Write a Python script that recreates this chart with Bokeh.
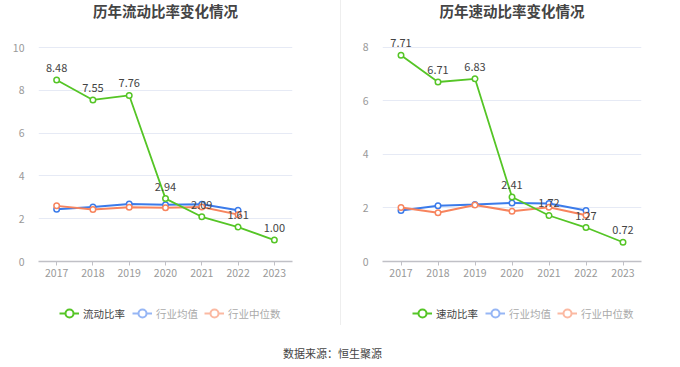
from bokeh.plotting import figure
from bokeh.models import Legend, LegendItem, Div
from bokeh.layouts import row, column
from bokeh.embed import file_html
from bokeh.resources import INLINE
from bokeh.core.properties import value

years = ["2017", "2018", "2019", "2020", "2021", "2022", "2023"]
ind_years = ["2017", "2018", "2019", "2020", "2021", "2022"]

current_ratio = [8.48, 7.55, 7.76, 2.94, 2.09, 1.61, 1.00]
current_ind_mean = [2.44, 2.55, 2.69, 2.65, 2.68, 2.40]
current_ind_median = [2.60, 2.43, 2.54, 2.51, 2.55, 2.19]

quick_ratio = [7.71, 6.71, 6.83, 2.41, 1.72, 1.27, 0.72]
quick_ind_mean = [1.91, 2.08, 2.13, 2.19, 2.17, 1.91]
quick_ind_median = [2.02, 1.82, 2.11, 1.88, 2.03, 1.73]

FONT = "Noto Sans CJK SC"
GREEN = "#55c526"
BLUE = "#3b7bea"
ORANGE = "#f7845e"


def strip(width, height):
    f = figure(x_range=(0, 1), y_range=(0, 1), width=width, height=height,
               output_backend="svg", toolbar_location=None, min_border=0)
    f.axis.visible = False
    f.grid.visible = False
    f.outline_line_color = None
    return f


def make_chart(title, main_name, main_vals, mean_vals, median_vals, ymax,
               yend, width, bl, br, leg_x):
    # title strip (frame aligned with the chart frame below)
    tf = strip(width, 22)
    tf.text([0.5], [0.5], text=[title], text_font=value(FONT),
            text_font_size="14.5px", text_font_style="bold",
            text_color="#444444", text_align="center",
            text_baseline="middle", y_offset=-1)

    p = figure(x_range=years, y_range=(0, yend), width=width, height=276,
               output_backend="svg", toolbar_location=None,
               min_border_left=bl, min_border_right=br,
               min_border_top=6, min_border_bottom=37)
    p.x_range.range_padding = 0
    p.outline_line_color = None

    p.xgrid.grid_line_color = None
    p.ygrid.grid_line_color = "#e6eaf5"
    p.yaxis.ticker = list(range(0, ymax + 1, 2))
    p.yaxis.axis_line_color = None
    p.yaxis.major_tick_line_color = None
    p.yaxis.minor_tick_line_color = None
    p.yaxis.major_label_text_color = "#999999"
    p.yaxis.major_label_text_font = FONT
    p.yaxis.major_label_text_font_size = "10.5px"
    p.yaxis.major_label_standoff = 8

    p.xaxis.axis_line_color = "#c0c0c6"
    p.xaxis.axis_line_width = 1.5
    p.xaxis.major_tick_line_color = "#c0c0c6"
    p.xaxis.major_tick_in = 0
    p.xaxis.major_tick_out = 4
    p.xaxis.minor_tick_line_color = None
    p.xaxis.major_label_text_color = "#999999"
    p.xaxis.major_label_text_font = FONT
    p.xaxis.major_label_text_font_size = "10.5px"
    p.xaxis.major_label_standoff = 3

    p.line(ind_years, mean_vals, line_color=BLUE, line_width=2)
    p.scatter(ind_years, mean_vals, size=5.5, marker="circle",
              line_color=BLUE, fill_color="white", line_width=1.5)
    p.line(ind_years, median_vals, line_color=ORANGE, line_width=2)
    p.scatter(ind_years, median_vals, size=5.5, marker="circle",
              line_color=ORANGE, fill_color="white", line_width=1.5)
    p.line(years, main_vals, line_color=GREEN, line_width=1.8)
    p.scatter(years, main_vals, size=5.5, marker="circle",
              line_color=GREEN, fill_color="white", line_width=1.5)

    p.text(years, main_vals, text=[f"{v:.2f}" for v in main_vals],
           text_font=value(FONT), text_font_size="11px", text_color="#444444",
           text_align="center", text_baseline="bottom", y_offset=-8)

    # legend strip (its frame is aligned with the chart frame above)
    lf = strip(width, 40)

    def proxy(col):
        l = lf.line([-5, -4], [-5, -4], line_color=col, line_width=2)
        s = lf.scatter([-5], [-5], size=9, marker="circle", line_color=col,
                       fill_color="white", line_width=2)
        return [l, s]

    specs = [
        (main_name, proxy(GREEN), "#444444", leg_x[0]),
        ("行业均值", proxy("#96b6f5"), "#aaaaaa", leg_x[1]),
        ("行业中位数", proxy("#fbb9a2"), "#aaaaaa", leg_x[2]),
    ]
    for label, rends, col, x in specs:
        lg = Legend(items=[LegendItem(label=label, renderers=rends)],
                    location=(x, 15), orientation="horizontal",
                    padding=0, margin=0, spacing=0,
                    glyph_width=20, glyph_height=20, label_standoff=4,
                    label_text_font=FONT, label_text_font_size="10.5px",
                    label_text_color=col, border_line_color=None,
                    background_fill_alpha=0)
        lf.add_layout(lg, "center")
    return column(tf, p, lf, spacing=0)


c1 = make_chart("历年流动比率变化情况", "流动比率", current_ratio,
                current_ind_mean, current_ind_median, 10, 10.89,
                340, 38, 48, (21, 94, 166))
c2 = make_chart("历年速动比率变化情况", "速动比率", quick_ratio,
                quick_ind_mean, quick_ind_median, 8, 8.71,
                323, 41, 23, (30, 103, 175))

divider = Div(text="", width=1, height=325, margin=0,
              styles={"background-color": "#eeeeee"})

footer = strip(664, 22)
footer.text([0.5], [0.5], text=["数据来源：恒生聚源"], text_font=value(FONT),
            text_font_size="11px", text_color="#444444",
            text_align="center", text_baseline="middle", y_offset=3)

layout = column(row(c1, divider, c2, spacing=0), footer, spacing=0)

open("out.html", "w").write(file_html(layout, INLINE))
